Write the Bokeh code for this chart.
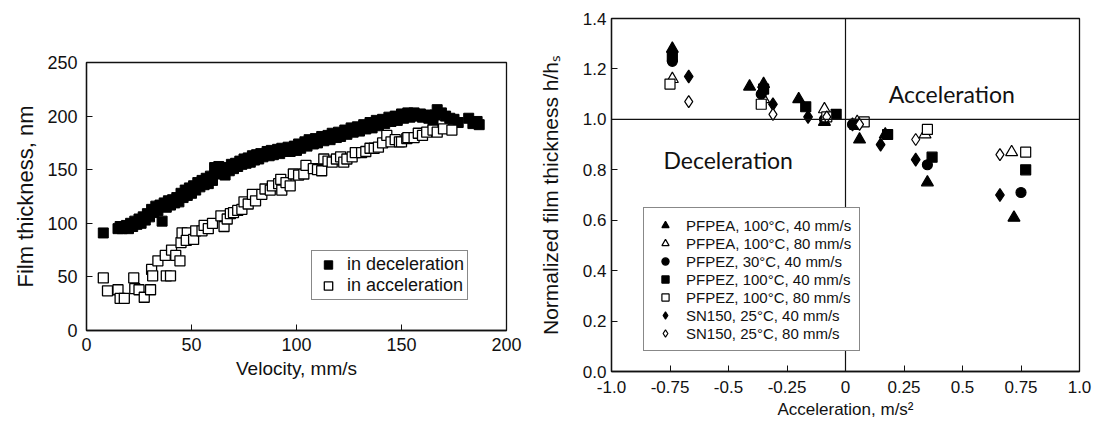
from bokeh.plotting import figure
from bokeh.layouts import row
from bokeh.models import Range1d, FixedTicker, Span, Legend, LegendItem, Label
from bokeh.embed import file_html
from bokeh.resources import INLINE

# ---------------- Left chart data ----------------
dec_velocity = [8, 15, 16, 17, 18, 19, 20, 21, 22, 23, 24, 25, 26, 27, 28, 29, 30, 31, 32, 33, 34, 35, 36, 37, 38, 39,
                40, 41, 42, 43, 44, 45, 46, 47, 48, 49, 50, 51, 52, 53, 54, 55, 56, 57, 58, 59, 60, 61, 62, 63, 64, 65,
                66, 67, 68, 69, 70, 71, 72, 73, 74, 75, 76, 77, 78, 79, 80, 81, 82, 83, 84, 86, 87, 88, 89, 91, 92, 93,
                95, 96, 97, 99, 100, 101, 102, 104, 105, 106, 108, 109, 110, 112, 113, 115, 116, 117, 119, 120, 121,
                123, 124, 126, 127, 129, 130, 132, 133, 135, 136, 138, 139, 141, 142, 144, 145, 147, 148, 150, 151,
                153, 154, 156, 157, 159, 160, 162, 163, 165, 166, 167, 169, 171, 173, 175, 177, 182, 184, 186, 187]
dec_thickness = [91, 95, 97, 95, 96, 98, 95, 100, 97, 102, 99, 104, 100, 106, 103, 109, 106, 113, 110, 116, 112, 117,
                 102, 119, 115, 121, 117, 122, 119, 124, 120, 128, 124, 131, 126, 133, 128, 135, 131, 138, 134, 140,
                 136, 142, 137, 144, 140, 152, 148, 153, 146, 150, 145, 152, 149, 155, 151, 156, 153, 158, 155, 160,
                 156, 161, 157, 163, 159, 164, 160, 165, 162, 167, 163, 168, 164, 169, 165, 170, 167, 171, 167, 172,
                 168, 174, 170, 176, 172, 178, 174, 179, 175, 181, 177, 182, 178, 184, 180, 185, 181, 187, 183, 189,
                 185, 190, 186, 192, 188, 194, 189, 196, 191, 197, 193, 199, 195, 200, 196, 202, 198, 203, 199, 203,
                 200, 202, 199, 201, 198, 192, 201, 206, 203, 200, 198, 197, 194, 198, 193, 195, 192]

acc_velocity = [8, 10, 15, 16, 18, 22.5, 23, 25, 27.5, 30.5, 31, 31.5, 34, 37.5, 38, 40, 40.5, 42.5, 44.5, 45, 45.5,
                48, 47.5, 51, 52, 55, 56, 58, 60, 64, 65.5, 67, 68.5, 70, 72, 74, 75, 77, 79, 80.5, 83.5, 85, 87.5,
                88.5, 91.5, 92.5, 93, 95, 97, 98.5, 101, 103.5, 104.5, 108, 110, 112, 113, 115, 117, 119, 121, 122.5,
                124, 126.5, 128, 131, 133, 135, 137, 139, 141, 143, 145, 147, 149, 150, 152.5, 153, 156, 158, 160,
                162, 165, 167, 170, 174]
acc_thickness = [49, 37, 38, 30, 30, 49, 39, 38, 31, 38, 57, 51, 65, 70, 51, 51, 75, 70, 65, 82, 91, 91, 84, 85, 93,
                 93, 98, 95, 100, 107, 97, 104, 109, 110, 112, 113, 120, 118, 127, 121, 127, 132, 131, 135, 137, 141,
                 131, 138, 135, 146, 145, 146, 154, 151, 150, 149, 160, 158, 157, 160, 162, 157, 160, 162, 166, 166,
                 167, 170, 170, 171, 175, 182, 176, 178, 176, 176, 179, 180, 180, 184, 182, 185, 187, 185, 188, 187]

left_x_ticks = [0, 50, 100, 150, 200]
left_y_ticks = [0, 50, 100, 150, 200, 250]

# ---------------- Right chart data ----------------
pfpea100_40_x = [-0.74, -0.41, -0.35, -0.20, -0.09, 0.06, 0.17, 0.35, 0.72]
pfpea100_40_y = [1.28, 1.13, 1.14, 1.08, 0.99, 0.92, 0.94, 0.75, 0.61]
pfpea100_80_x = [-0.74, -0.35, -0.09, 0.05, 0.34, 0.71]
pfpea100_80_y = [1.16, 1.08, 1.04, 0.99, 0.94, 0.87]
pfpez30_40_x = [-0.74, -0.36, -0.09, 0.03, 0.35, 0.75]
pfpez30_40_y = [1.23, 1.10, 1.00, 0.98, 0.82, 0.71]
pfpez100_40_x = [-0.74, -0.35, -0.17, -0.04, 0.04, 0.18, 0.37, 0.77]
pfpez100_40_y = [1.25, 1.12, 1.05, 1.02, 0.98, 0.94, 0.85, 0.80]
pfpez100_80_x = [-0.75, -0.36, -0.08, 0.08, 0.35, 0.77]
pfpez100_80_y = [1.14, 1.06, 1.01, 0.99, 0.96, 0.87]
sn150_40_x = [-0.67, -0.31, -0.16, 0.03, 0.15, 0.30, 0.66]
sn150_40_y = [1.17, 1.06, 1.01, 0.98, 0.90, 0.84, 0.70]
sn150_80_x = [-0.67, -0.31, -0.08, 0.06, 0.30, 0.66]
sn150_80_y = [1.07, 1.02, 1.01, 0.98, 0.92, 0.86]

right_x_ticks = [-1.0, -0.75, -0.5, -0.25, 0, 0.25, 0.5, 0.75, 1.0]
right_x_labels = ["-1.0", "-0.75", "-0.5", "-0.25", "0", "0.25", "0.5", "0.75", "1.0"]
right_y_ticks = [0, 0.2, 0.4, 0.6, 0.8, 1.0, 1.2, 1.4]
right_y_labels = ["0.0", "0.2", "0.4", "0.6", "0.8", "1.0", "1.2", "1.4"]

FONT = "Liberation Sans"
INK = "#111111"


def style_axes(p, tick_size, xtitle_size, ytitle_size):
    for ax in (p.xaxis, p.yaxis):
        ax.major_tick_in = 6
        ax.major_tick_out = 0
        ax.minor_tick_in = 0
        ax.minor_tick_out = 0
        ax.axis_line_color = INK
        ax.axis_line_width = 1.3
        ax.major_tick_line_color = INK
        ax.major_label_text_font = FONT
        ax.major_label_text_font_size = tick_size
        ax.major_label_text_color = INK
        ax.axis_label_text_font = FONT
        ax.axis_label_text_font_style = "normal"
        ax.axis_label_text_color = INK
    p.xaxis.axis_label_text_font_size = xtitle_size
    p.yaxis.axis_label_text_font_size = ytitle_size
    p.xgrid.visible = False
    p.ygrid.visible = False
    p.outline_line_color = INK
    p.outline_line_width = 1.3
    p.background_fill_color = "white"
    p.border_fill_color = "white"
    p.frame_align = False


# ---------------- Left figure ----------------
p1 = figure(width=530, height=426, output_backend="svg", toolbar_location=None,
            x_range=Range1d(0, 200), y_range=Range1d(0, 250),
            min_border_left=86, min_border_right=24, min_border_top=62, min_border_bottom=96)
style_axes(p1, "18px", "19px", "22px")
p1.xaxis.ticker = FixedTicker(ticks=left_x_ticks)
p1.yaxis.ticker = FixedTicker(ticks=left_y_ticks)
p1.xaxis.axis_label = "Velocity, mm/s"
p1.yaxis.axis_label = "Film thickness, nm"
p1.xaxis.major_label_standoff = 7
p1.xaxis.axis_label_standoff = 4
p1.yaxis.major_label_standoff = 9
p1.yaxis.axis_label_standoff = 6

r_dec = p1.scatter(dec_velocity, dec_thickness, marker="square", size=10,
                   fill_color="black", line_color="black")
r_acc = p1.scatter(acc_velocity, acc_thickness, marker="square", size=10,
                   fill_color="white", line_color="black", line_width=1.3)

leg1 = Legend(items=[LegendItem(label="in deceleration", renderers=[r_dec]),
                     LegendItem(label="in acceleration", renderers=[r_acc])],
              location=(225, 30), padding=3, spacing=0, margin=0,
              glyph_width=26, glyph_height=21, label_height=21, label_standoff=6,
              label_text_font=FONT, label_text_font_size="18px", label_text_color=INK,
              border_line_color=INK, border_line_width=1.2, background_fill_alpha=1)
p1.add_layout(leg1, "center")

# ---------------- Right figure ----------------
p2 = figure(width=567, height=426, output_backend="svg", toolbar_location=None,
            x_range=Range1d(-1, 1), y_range=Range1d(0, 1.4),
            min_border_left=81, min_border_right=18, min_border_top=18, min_border_bottom=55)
style_axes(p2, "17px", "17px", "21px")
p2.xaxis.ticker = FixedTicker(ticks=right_x_ticks)
p2.yaxis.ticker = FixedTicker(ticks=right_y_ticks)
p2.xaxis.major_label_overrides = {t: l for t, l in zip(right_x_ticks, right_x_labels)}
p2.yaxis.major_label_overrides = {t: l for t, l in zip(right_y_ticks, right_y_labels)}
p2.xaxis.axis_label = "Acceleration, m/s²"
p2.yaxis.axis_label = "Normalized film thickness h/hₛ"
p2.xaxis.major_label_standoff = 9
p2.xaxis.axis_label_standoff = 4
p2.yaxis.major_label_standoff = 5
p2.yaxis.axis_label_standoff = 18

p2.add_layout(Span(location=0, dimension="height", line_color=INK, line_width=1.2))
p2.add_layout(Span(location=1.0, dimension="width", line_color=INK, line_width=1.2))

series = [
    ("PFPEA, 100°C, 40 mm/s", pfpea100_40_x, pfpea100_40_y, "triangle", True, 12),
    ("PFPEA, 100°C, 80 mm/s", pfpea100_80_x, pfpea100_80_y, "triangle", False, 12),
    ("PFPEZ, 30°C, 40 mm/s", pfpez30_40_x, pfpez30_40_y, "circle", True, 10),
    ("PFPEZ, 100°C, 40 mm/s", pfpez100_40_x, pfpez100_40_y, "square", True, 10),
    ("PFPEZ, 100°C, 80 mm/s", pfpez100_80_x, pfpez100_80_y, "square", False, 10),
    ("SN150, 25°C, 40 mm/s", sn150_40_x, sn150_40_y, "diamond", True, 13),
    ("SN150, 25°C, 80 mm/s", sn150_80_x, sn150_80_y, "diamond", False, 12),
]
items = []
for label, xs, ys, marker, filled, size in series:
    r = p2.scatter(xs, ys, marker=marker, size=size,
                   fill_color="black" if filled else "white",
                   line_color="black", line_width=1.2)
    items.append(LegendItem(label=label, renderers=[r]))

leg2 = Legend(items=items, location=(32, 20), padding=8, spacing=0, margin=0,
              glyph_width=26, glyph_height=18, label_height=18, label_standoff=8,
              label_text_font=FONT, label_text_font_size="15px", label_text_color=INK,
              border_line_color=INK, border_line_width=1.2, background_fill_alpha=1)
p2.add_layout(leg2, "center")

p2.add_layout(Label(x=0.185, y=1.10, text="Acceleration", text_font="Lato", text_font_size="23px",
                    text_color=INK, text_baseline="middle", text_align="left"))
p2.add_layout(Label(x=-0.778, y=0.837, text="Deceleration", text_font="Lato", text_font_size="23px",
                    text_color=INK, text_baseline="middle", text_align="left"))

layout = row(p1, p2)
open("out.html", "w").write(file_html(layout, INLINE))
